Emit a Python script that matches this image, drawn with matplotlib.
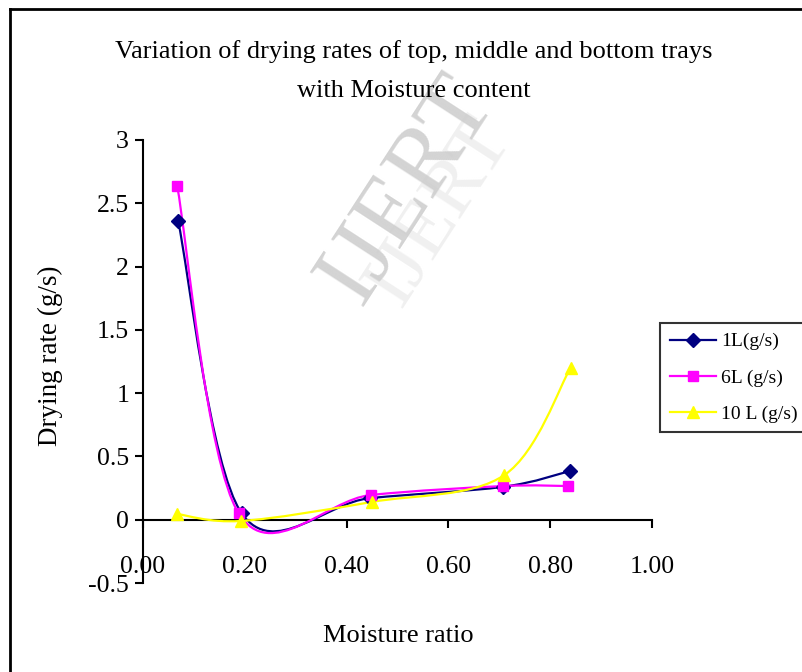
import numpy as np
import matplotlib
matplotlib.use("Agg")
import matplotlib.pyplot as plt
from matplotlib.path import Path
from matplotlib.patches import PathPatch
from matplotlib.lines import Line2D

plt.rcParams['font.family'] = ['Liberation Serif', 'DejaVu Serif']

# ---- data ----
x_1L = [0.069, 0.194, 0.445, 0.708, 0.839]
y_1L = [2.36, 0.05, 0.17, 0.26, 0.385]
x_6L = [0.067, 0.188, 0.447, 0.708, 0.835]
y_6L = [2.64, 0.05, 0.195, 0.266, 0.266]
x_10L = [0.067, 0.192, 0.449, 0.71, 0.84]
y_10L = [0.045, -0.01, 0.14, 0.353, 1.2]

series_labels = ["1L(g/s)", "6L (g/s)", "10 L (g/s)"]
series_colors = ["#000080", "#FF00FF", "#FFFF00"]
series_markers = ["D", "s", "^"]
x_ticks = [0.0, 0.2, 0.4, 0.6, 0.8, 1.0]
x_ticklabels = ["0.00", "0.20", "0.40", "0.60", "0.80", "1.00"]
y_ticks = [-0.5, 0, 0.5, 1, 1.5, 2, 2.5, 3]
y_ticklabels = ["-0.5", "0", "0.5", "1", "1.5", "2", "2.5", "3"]

title = "Variation of drying rates of top, middle and bottom trays\nwith Moisture content"
xlabel = "Moisture ratio"
ylabel = "Drying rate (g/s)"

W, H = 803, 672
fig = plt.figure(figsize=(W / 100, H / 100), dpi=100)
ax = fig.add_axes([143 / W, 1 - 583 / H, (652 - 143) / W, (583 - 140) / H])
ax.set_xlim(0, 1)
ax.set_ylim(-0.5, 3)

for s in ["top", "right"]:
    ax.spines[s].set_visible(False)
ax.spines["bottom"].set_position(("data", 0))
ax.spines["left"].set_linewidth(1.5)
ax.spines["bottom"].set_linewidth(1.5)

ax.set_xticks(x_ticks)
ax.set_xticklabels(x_ticklabels)
ax.set_yticks(y_ticks)
ax.set_yticklabels(y_ticklabels)
ax.tick_params(axis="both", direction="out", length=6, width=1.5, labelsize=18.5)
ax.tick_params(axis="x", pad=20)
ax.tick_params(axis="y", pad=4)


def excel_smooth_path(ax, xs, ys):
    pts = ax.transData.transform(np.column_stack([xs, ys]))
    n = len(pts)
    verts = [pts[0]]
    codes = [Path.MOVETO]
    for i in range(n - 1):
        p0 = pts[i - 1] if i > 0 else pts[i]
        p1 = pts[i]
        p2 = pts[i + 1]
        p3 = pts[i + 2] if i + 2 < n else pts[i + 1]
        c1 = p1 + (p2 - p0) / 6.0
        c2 = p2 - (p3 - p1) / 6.0
        verts += [c1, c2, p2]
        codes += [Path.CURVE4] * 3
    vd = ax.transData.inverted().transform(np.array(verts))
    return Path(vd, codes)


series = [(x_1L, y_1L), (x_6L, y_6L), (x_10L, y_10L)]
handles = []
for (xs, ys), lab, col, mk in zip(series, series_labels, series_colors, series_markers):
    path = excel_smooth_path(ax, xs, ys)
    ax.add_patch(PathPatch(path, fill=False, edgecolor=col, linewidth=1.6, zorder=3))
    ms = 9 if mk == "^" else (7.5 if mk == "D" else 7)
    ax.plot(xs, ys, linestyle="none", marker=mk, color=col, markersize=ms, zorder=4)
    handles.append(Line2D([], [], color=col, linewidth=1.6, marker=mk, markersize=ms, label=lab))

leg = fig.legend(handles=handles, loc="upper left",
                 bbox_to_anchor=(660 / W, 1 - 323 / H), borderaxespad=0,
                 fontsize=14, frameon=True, fancybox=False, handlelength=2.4,
                 labelspacing=0.95, borderpad=0.5, handletextpad=0.25)
leg.get_frame().set_edgecolor("black")
leg.get_frame().set_linewidth(1.5)

fig.text(414 / W, 1 - 71 / H, title, ha="center", va="center", fontsize=19,
         linespacing=1.95)
fig.text(398 / W, 1 - 636 / H, xlabel, ha="center", va="center", fontsize=19)
fig.text(50 / W, 1 - 356 / H, ylabel, ha="center", va="center", fontsize=19.5,
         rotation=90)

# watermark
fig.text(440 / W, 1 - 212 / H, "IJERT", ha="center", va="center", fontsize=58,
         rotation=57, color="#f0f0f0", zorder=0)
fig.text(408 / W, 1 - 190 / H, "IJERT", ha="center", va="center", fontsize=70,
         rotation=57, color="#cccccc", alpha=0.85, zorder=0)

# outer frame (top and left edges visible)
fig.add_artist(Line2D([10 / W, 1.05], [1 - 9 / H, 1 - 9 / H], color="black",
                      linewidth=2, transform=fig.transFigure))
fig.add_artist(Line2D([10 / W, 10 / W], [1 - 9 / H, -0.05], color="black",
                      linewidth=2, transform=fig.transFigure))

fig.savefig("out.png", dpi=100)
